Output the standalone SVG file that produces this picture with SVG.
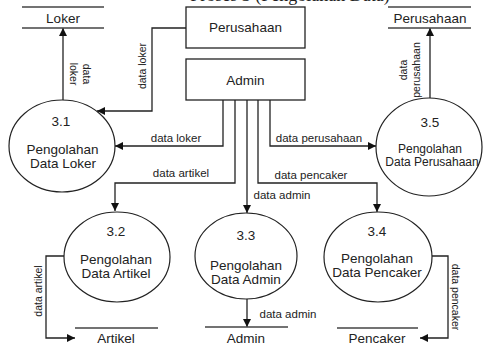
<svg xmlns="http://www.w3.org/2000/svg" width="483" height="347" viewBox="0 0 483 347">
<style>
  .t { font-family: "Liberation Sans", Arial, sans-serif; fill: #222; }
  .big { font-size: 13.5px; text-anchor: middle; }
  .mid { font-size: 12px; text-anchor: middle; }
  .lbl { font-size: 11.5px; text-anchor: middle; }
  .rl { font-size: 10.5px; text-anchor: middle; }
  .proc { fill: #fff; stroke: #222; stroke-width: 1.2; }
  .box { fill: #fff; stroke: #222; stroke-width: 1.3; }
  .store { stroke: #444; stroke-width: 1.5; fill: none; }
  .flow { fill: none; stroke: #222; stroke-width: 1.3; marker-end: url(#ah); }
  .cap { font-family: "Liberation Serif", "Times New Roman", serif; font-size: 18px; fill: #222; text-anchor: middle; }
</style>
<defs>
  <marker id="ah" viewBox="0 0 10 10" refX="10" refY="5" markerWidth="9" markerHeight="8" orient="auto" markerUnits="userSpaceOnUse">
    <path d="M0,0 L10,5 L0,10 z" fill="#111"/>
  </marker>
</defs>
<rect width="483" height="347" fill="#fff"/>
<text class="cap" x="290" y="1">Proses 3 (Pengolahan Data)</text>

<g id="connectors">
  <path class="flow" d="M63,100 V28"/>
  <path class="flow" d="M186,28 H152 V111 H97"/>
  <path class="flow" d="M223,100 V146 H115"/>
  <path class="flow" d="M235,100 V183 H115 V211"/>
  <path class="flow" d="M247,100 V213"/>
  <path class="flow" d="M258,100 V183 H377 V212"/>
  <path class="flow" d="M270,100 V146 H376"/>
  <path class="flow" d="M430,98 V28"/>
  <path class="flow" d="M64,256 H46 V338 H75"/>
  <path class="flow" d="M247,299 V327"/>
  <path class="flow" d="M432,256 H448 V338 H420"/>
  <text class="t rl" transform="translate(83,74) rotate(90)">data</text>
  <text class="t rl" transform="translate(70,74) rotate(90)">loker</text>
  <text class="t rl" transform="translate(146,66) rotate(-90)">data loker</text>
  <text class="t lbl" x="176" y="142">data loker</text>
  <text class="t lbl" x="181" y="177">data artikel</text>
  <text class="t lbl" x="282" y="199">data admin</text>
  <text class="t lbl" x="311" y="179">data pencaker</text>
  <text class="t lbl" x="319" y="142">data perusahaan</text>
  <text class="t rl" transform="translate(407,70) rotate(-90)">data</text>
  <text class="t rl" transform="translate(420,70) rotate(-90)">perusahaan</text>
  <text class="t rl" transform="translate(42,291) rotate(-90)">data artikel</text>
  <text class="t rl" transform="translate(452,297) rotate(90)">data pencaker</text>
  <text class="t lbl" x="288" y="318">data admin</text>
</g>

<g id="store-loker">
  <line class="store" x1="22" y1="7" x2="104" y2="7"/>
  <line class="store" x1="22" y1="28" x2="104" y2="28"/>
  <text class="t big" x="63" y="23">Loker</text>
</g>
<g id="ext-perusahaan">
  <rect class="box" x="186" y="7" width="119" height="41"/>
  <text class="t big" x="245.5" y="32">Perusahaan</text>
</g>
<g id="ext-admin">
  <rect class="box" x="186" y="59" width="119" height="41"/>
  <text class="t big" x="245.5" y="85">Admin</text>
</g>
<g id="store-perusahaan">
  <line class="store" x1="388" y1="7" x2="471" y2="7"/>
  <line class="store" x1="388" y1="28" x2="471" y2="28"/>
  <text class="t big" x="430" y="23">Perusahaan</text>
</g>

<g id="p31">
  <ellipse class="proc" cx="62" cy="146" rx="53" ry="46"/>
  <text class="t big" x="61" y="126">3.1</text>
  <text class="t big" x="62.5" y="154">Pengolahan</text>
  <text class="t big" x="63" y="168">Data Loker</text>
</g>
<g id="p35">
  <ellipse class="proc" cx="429" cy="147" rx="53" ry="49"/>
  <text class="t big" x="430" y="127">3.5</text>
  <text class="t mid" x="430" y="153">Pengolahan</text>
  <text class="t mid" x="432" y="166">Data Perusahaan</text>
</g>
<g id="p32">
  <ellipse class="proc" cx="117" cy="257" rx="53" ry="45"/>
  <text class="t big" x="116" y="236">3.2</text>
  <text class="t big" x="116" y="264">Pengolahan</text>
  <text class="t big" x="116" y="278">Data Artikel</text>
</g>
<g id="p33">
  <ellipse class="proc" cx="246" cy="256" rx="51" ry="43"/>
  <text class="t big" x="246" y="240">3.3</text>
  <text class="t big" x="246" y="270">Pengolahan</text>
  <text class="t big" x="246" y="284">Data Admin</text>
</g>
<g id="p34">
  <ellipse class="proc" cx="378" cy="257" rx="54" ry="45"/>
  <text class="t big" x="377" y="236">3.4</text>
  <text class="t big" x="377" y="263">Pengolahan</text>
  <text class="t big" x="377" y="277">Data Pencaker</text>
</g>

<g id="store-artikel">
  <line class="store" x1="75" y1="328" x2="158" y2="328"/>
  <text class="t big" x="116" y="343">Artikel</text>
</g>
<g id="store-admin">
  <line class="store" x1="205" y1="327" x2="288" y2="327"/>
  <text class="t big" x="246" y="343">Admin</text>
</g>
<g id="store-pencaker">
  <line class="store" x1="337" y1="328" x2="418" y2="328"/>
  <text class="t big" x="377" y="343">Pencaker</text>
</g>
</svg>
